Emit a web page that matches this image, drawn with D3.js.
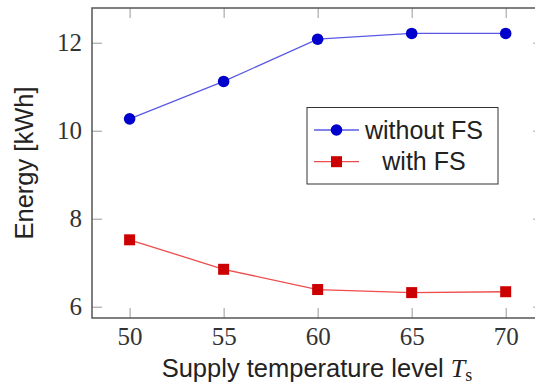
<!DOCTYPE html>
<html>
<head>
<meta charset="utf-8">
<script src="https://cdn.jsdelivr.net/npm/d3@7/dist/d3.min.js"></script>
<style>
  body { margin: 0; background: #fff; }
  svg { display: block; }
</style>
</head>
<body>
<div class="chart"></div>
<script>
// data
var temps = [50, 55, 60, 65, 70];
var withoutFS = [10.27, 11.12, 12.08, 12.21, 12.21];
var withFS = [7.52, 6.85, 6.39, 6.32, 6.34];
var seriesNames = ["without FS", "with FS"];
var xTicks = [50, 55, 60, 65, 70];
var yTicks = [6, 8, 10, 12];

var width = 535, height = 388;
var svg = d3.select("div.chart").append("svg")
    .attr("width", width)
    .attr("height", height);

// plot box (right edge runs past the window, like the picture)
var plotLeft = 92, plotRight = 543.3, plotTop = 8, plotBottom = 318;

var x = d3.scaleLinear()
    .domain([48, 72])
    .range([plotLeft, plotRight]);

var y = d3.scaleLinear()
    .domain([5.743, 12.789])
    .range([plotBottom, plotTop]);

var tickColor = "#999";
var serif = "'Liberation Serif', 'DejaVu Serif', serif";
var sans = "'Liberation Sans', Arial, sans-serif";

function styleAxis(g) {
  g.attr("font-family", null).attr("font-size", null);
  g.select(".domain").remove();
  g.selectAll(".tick line").attr("stroke", tickColor).attr("stroke-width", 1);
  g.selectAll(".tick text")
    .attr("fill", "#333")
    .style("font-family", serif)
    .style("font-size", "25px");
}

// bottom axis with labels
svg.append("g")
    .attr("transform", "translate(0," + plotBottom + ")")
    .call(d3.axisBottom(x).tickValues(xTicks).tickSize(-10).tickPadding(9).tickFormat(d3.format("d")))
    .call(styleAxis);

// top ticks
svg.append("g")
    .attr("transform", "translate(0," + plotTop + ")")
    .call(d3.axisTop(x).tickValues(xTicks).tickSize(-10).tickFormat(""))
    .call(styleAxis);

// left axis with labels
svg.append("g")
    .attr("transform", "translate(" + plotLeft + ",0)")
    .call(d3.axisLeft(y).tickValues(yTicks).tickSize(-10).tickPadding(10).tickFormat(d3.format("d")))
    .call(styleAxis);

// right ticks
svg.append("g")
    .attr("transform", "translate(" + plotRight + ",0)")
    .call(d3.axisRight(y).tickValues(yTicks).tickSize(-10).tickFormat(""))
    .call(styleAxis);

// frame
svg.append("rect")
    .attr("x", plotLeft)
    .attr("y", plotTop)
    .attr("width", plotRight - plotLeft)
    .attr("height", plotBottom - plotTop)
    .attr("fill", "none")
    .attr("stroke", "#555")
    .attr("stroke-width", 1.5);

var line = d3.line()
    .x(function(d, i) { return x(temps[i]); })
    .y(function(d) { return y(d); });

// without FS
svg.append("path")
    .datum(withoutFS)
    .attr("fill", "none")
    .attr("stroke", "#5a5ae6")
    .attr("stroke-width", 1.3)
    .attr("d", line);
svg.selectAll("circle.wo")
    .data(withoutFS)
  .enter().append("circle")
    .attr("class", "wo")
    .attr("cx", function(d, i) { return x(temps[i]); })
    .attr("cy", function(d) { return y(d); })
    .attr("r", 5.8)
    .attr("fill", "#0000cc");

// with FS
svg.append("path")
    .datum(withFS)
    .attr("fill", "none")
    .attr("stroke", "#ee4c4c")
    .attr("stroke-width", 1.3)
    .attr("d", line);
var sq = 11;
svg.selectAll("rect.w")
    .data(withFS)
  .enter().append("rect")
    .attr("class", "w")
    .attr("x", function(d, i) { return x(temps[i]) - sq / 2; })
    .attr("y", function(d) { return y(d) - sq / 2; })
    .attr("width", sq)
    .attr("height", sq)
    .attr("fill", "#cc0000");

// axis labels
var xLabel = svg.append("text")
    .attr("x", 317)
    .attr("y", 377)
    .attr("text-anchor", "middle")
    .attr("fill", "#222")
    .style("font-family", sans)
    .style("font-size", "25.5px");
xLabel.append("tspan").text("Supply temperature level ");
xLabel.append("tspan")
    .style("font-family", serif)
    .style("font-style", "italic")
    .style("font-size", "26px")
    .text("T");
xLabel.append("tspan")
    .attr("dy", 4)
    .style("font-family", serif)
    .style("font-size", "18px")
    .text("s");

svg.append("text")
    .attr("transform", "translate(33,163) rotate(-90)")
    .attr("text-anchor", "middle")
    .attr("fill", "#222")
    .style("font-family", sans)
    .style("font-size", "25.5px")
    .text("Energy [kWh]");

// legend
var legend = svg.append("g");
legend.append("rect")
    .attr("x", 307)
    .attr("y", 107.5)
    .attr("width", 191)
    .attr("height", 76.5)
    .attr("fill", "#fff")
    .attr("stroke", "#333")
    .attr("stroke-width", 1);

var legendY = [130, 161.7];
var legendLine = ["#5a5ae6", "#ee4c4c"];
var legendMark = ["#0000cc", "#cc0000"];

seriesNames.forEach(function(name, i) {
  var ly = legendY[i];
  legend.append("line")
    .attr("x1", 314).attr("x2", 359)
    .attr("y1", ly).attr("y2", ly)
    .attr("stroke", legendLine[i])
    .attr("stroke-width", 1.3);
  if (i === 0) {
    legend.append("circle")
      .attr("cx", 336.5).attr("cy", ly).attr("r", 5.8)
      .attr("fill", legendMark[i]);
  } else {
    legend.append("rect")
      .attr("x", 336.5 - sq / 2).attr("y", ly - sq / 2)
      .attr("width", sq).attr("height", sq)
      .attr("fill", legendMark[i]);
  }
  legend.append("text")
    .attr("x", 424)
    .attr("y", ly)
    .attr("dy", "0.35em")
    .attr("text-anchor", "middle")
    .attr("fill", "#222")
    .style("font-family", sans)
    .style("font-size", "25px")
    .text(name);
});
</script>
</body>
</html>
